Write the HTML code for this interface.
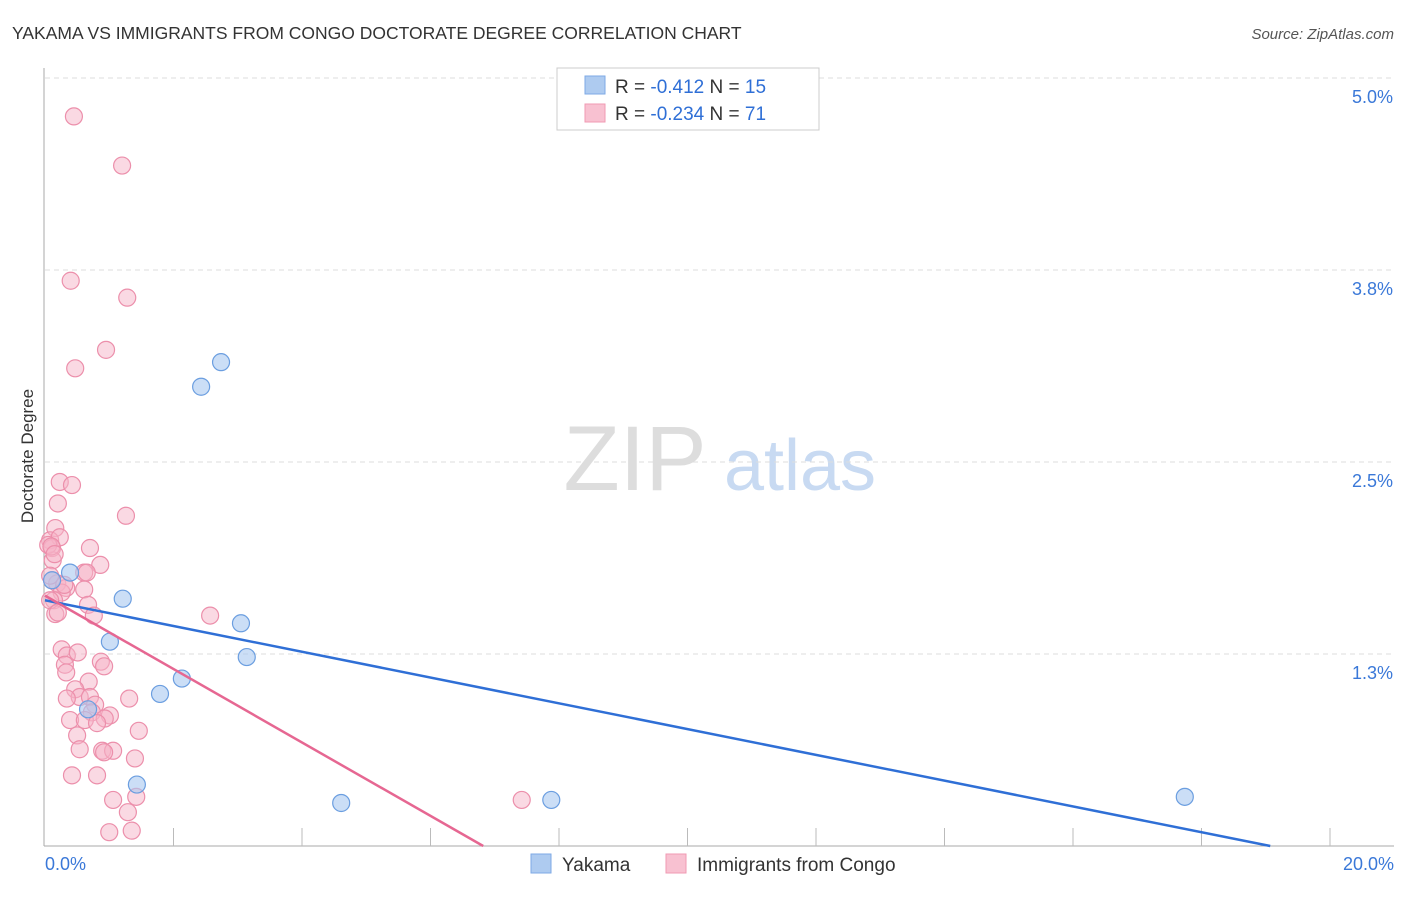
<!DOCTYPE html>
<html><head><meta charset="utf-8"><style>
body{margin:0;background:#fff;font-family:"Liberation Sans",sans-serif;}
svg text{font-family:"Liberation Sans",sans-serif;}
</style></head><body>
<svg id="chart" width="1406" height="892" viewBox="0 0 1406 892" xmlns="http://www.w3.org/2000/svg">
<text x="12" y="39" font-size="17.5" fill="#333">YAKAMA VS IMMIGRANTS FROM CONGO DOCTORATE DEGREE CORRELATION CHART</text>
<text x="1394" y="39" font-size="15" fill="#555" text-anchor="end" font-style="italic">Source: ZipAtlas.com</text>
<g>
<text x="635" y="490" font-size="92" fill="#ddd" text-anchor="middle" font-family="Liberation Serif, serif">ZIP</text>
<text x="800" y="490" font-size="72" fill="#c8daf2" text-anchor="middle">atlas</text>
</g>
<g id="grid"></g>
<g id="axes"></g>
<text transform="translate(33,456) rotate(-90)" font-size="17" fill="#333" text-anchor="middle">Doctorate Degree</text>
<g id="marks"></g>
<g>
<rect x="557" y="68" width="262" height="62" fill="#fff" stroke="#ccc"/>
<rect x="585" y="76" width="20" height="18" fill="#aecbf0" stroke="#7eaae6"/>
<rect x="585" y="104" width="20" height="18" fill="#f8c1d1" stroke="#f09ab3"/>
<text x="615" y="93" font-size="19" fill="#333">R = <tspan fill="#2f6fd6"> -0.412</tspan>   N = <tspan fill="#2f6fd6">15</tspan></text>
<text x="615" y="120" font-size="19" fill="#333">R = <tspan fill="#2f6fd6">-0.234</tspan>   N = <tspan fill="#2f6fd6">71</tspan></text>
</g>
<g>
<rect x="531" y="854" width="20" height="19" fill="#aecbf0" stroke="#7eaae6"/>
<text x="562" y="871" font-size="19" fill="#333">Yakama</text>
<rect x="666" y="854" width="20" height="19" fill="#f8c1d1" stroke="#f09ab3"/>
<text x="697" y="871" font-size="19" fill="#333">Immigrants from Congo</text>
</g>
</svg>
<script>
const yTicks=[5.0,3.75,2.5,1.25];
const yTickLabels=["5.0%","3.8%","2.5%","1.3%"];
const xTickLabels=["0.0%","20.0%"];
const yakamaX=[0.39,1.21,1.01,1.79,2.13,2.43,2.74,3.05,3.14,1.43,4.61,7.88,17.74,0.67,0.11];
const yakamaY=[1.78,1.61,1.33,0.99,1.09,2.99,3.15,1.45,1.23,0.40,0.28,0.30,0.32,0.89,1.73];
const congoX=[0.45,1.20,0.40,1.28,0.95,0.47,0.23,0.42,0.20,1.26,0.16,0.08,0.23,0.11,0.70,0.12,0.86,0.61,0.65,0.11,0.19,0.33,0.61,0.26,0.14,0.67,0.16,0.76,2.57,0.26,0.34,0.51,0.87,0.92,0.31,0.33,0.68,0.47,0.54,0.70,0.34,1.31,0.78,0.73,1.01,0.93,0.39,0.62,0.81,1.46,0.50,0.54,0.89,1.06,0.92,1.40,0.42,0.81,1.06,1.42,1.29,1.00,1.35,7.42,0.08,0.05,0.08,0.10,0.20,0.30,0.15];
const congoY=[4.75,4.43,3.68,3.57,3.23,3.11,2.37,2.35,2.23,2.15,2.07,1.99,2.01,1.94,1.94,1.86,1.83,1.78,1.78,1.73,1.71,1.68,1.67,1.65,1.60,1.57,1.51,1.50,1.50,1.28,1.24,1.26,1.20,1.17,1.18,1.13,1.07,1.02,0.97,0.97,0.96,0.96,0.92,0.87,0.85,0.83,0.82,0.82,0.80,0.75,0.72,0.63,0.62,0.62,0.61,0.57,0.46,0.46,0.30,0.32,0.22,0.09,0.10,0.30,1.76,1.96,1.60,1.95,1.52,1.70,1.90];
const yakamaTrend=[[0,1.60],[19.07,0.0]];
const congoTrend=[[0,1.63],[6.82,0.0]];
const X0=45,X1=1330,Y0=846,PXPER=153.6;
const sx=v=>X0+v/20*(X1-X0);
const sy=v=>Y0-v*PXPER;
const NS="http://www.w3.org/2000/svg";
function mk(tag,attrs,parent){const e=document.createElementNS(NS,tag);for(const k in attrs)e.setAttribute(k,attrs[k]);parent.appendChild(e);return e;}
const grid=document.getElementById('grid'),axes=document.getElementById('axes'),marks=document.getElementById('marks');
yTicks.forEach((t,i)=>{
 const l=mk('line',{x1:X0,x2:1394,y1:sy(t),y2:sy(t),stroke:'#ddd','stroke-dasharray':'5,4'},grid);
 
 
 const tx=mk('text',{x:1393,y:sy(t)+25,'font-size':18,fill:'#3a78d8','text-anchor':'end'},axes);
 tx.textContent=yTickLabels[i];
 
 
});
const ax=mk('line',{x1:X0-1,x2:X0-1,y1:68,y2:Y0,stroke:'#aaa'},axes);


const bx=mk('line',{x1:X0-1,x2:1394,y1:Y0,y2:Y0,stroke:'#aaa'},axes);


for(let v=2;v<=20;v+=2){
 const t=mk('line',{x1:sx(v),x2:sx(v),y1:Y0-18,y2:Y0,stroke:'#bbb'},axes);
 
 
}
[[0,'start',45],[20,'end',1394]].forEach((d,i)=>{
 const tx=mk('text',{x:d[2],y:870,'font-size':18,fill:'#3a78d8','text-anchor':d[1]},axes);
 tx.textContent=xTickLabels[i];
 
 
});
congoX.forEach((x,i)=>{
 const c=mk('circle',{cx:sx(x),cy:sy(congoY[i]),r:8.5,fill:'#f6b3c7','fill-opacity':0.5,stroke:'#ec8fab','stroke-width':1.2},marks);
 
 
});
yakamaX.forEach((x,i)=>{
 const c=mk('circle',{cx:sx(x),cy:sy(yakamaY[i]),r:8.5,fill:'#a9c8f0','fill-opacity':0.6,stroke:'#6b9ee0','stroke-width':1.2},marks);
 
 
});
const lb=mk('line',{x1:sx(yakamaTrend[0][0]),y1:sy(yakamaTrend[0][1]),x2:sx(yakamaTrend[1][0]),y2:sy(yakamaTrend[1][1]),stroke:'#2f6fd6','stroke-width':2.5},marks);


const lp=mk('line',{x1:sx(congoTrend[0][0]),y1:sy(congoTrend[0][1]),x2:sx(congoTrend[1][0]),y2:sy(congoTrend[1][1]),stroke:'#e66792','stroke-width':2.5},marks);


</script>
</body></html>
